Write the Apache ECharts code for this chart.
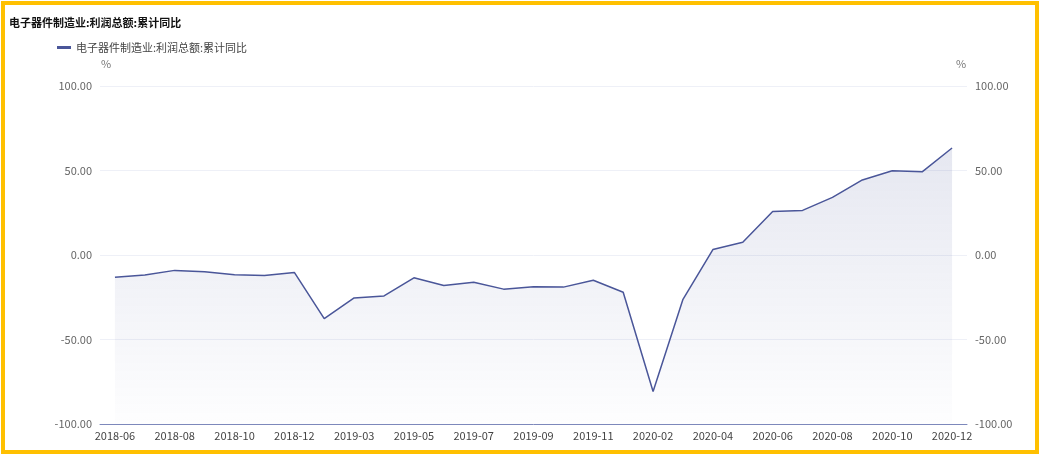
<!DOCTYPE html>
<html style="height: 100%">
<head>
<meta charset="utf-8">
<script src="https://cdn.jsdelivr.net/npm/echarts@6/dist/echarts.min.js"></script>
<style>
  body { margin: 0; background: #fff; }
  #frame { position: absolute; left: 1px; top: 1px; width: 1030px; height: 445px; border: 4px solid #FFC000; }
  #container { width: 100%; height: 100%; }
</style>
</head>
<body>
<div id="frame"><div id="container"></div></div>
<script>
var seriesName = '电子器件制造业:利润总额:累计同比';
var months = ['2018-06','2018-07','2018-08','2018-09','2018-10','2018-11','2018-12',
  '2019-02','2019-03','2019-04','2019-05','2019-06','2019-07','2019-08','2019-09','2019-10','2019-11','2019-12',
  '2020-02','2020-03','2020-04','2020-05','2020-06','2020-07','2020-08','2020-09','2020-10','2020-11','2020-12'];
var profitYoY = [-13.1, -11.9, -9.1, -9.9, -11.7, -12.1, -10.3,
  -37.7, -25.4, -24.2, -13.5, -18.1, -16.1, -20.2, -18.8, -19.0, -14.9, -22.0,
  -80.8, -26.2, 3.2, 7.5, 25.8, 26.4, 34.1, 44.4, 49.8, 49.2, 63.3];

var lineColor = '#4a5699';
var font = '"Noto Sans CJK SC", sans-serif';

var chart = echarts.init(document.getElementById('container'));

function yAxis(pos, showSplit) {
  return {
    type: 'value',
    position: pos,
    min: -100, max: 100, interval: 50,
    name: '%',
    nameGap: 17,
    nameTextStyle: { color: '#777', fontSize: 11, fontFamily: font,
      padding: pos === 'left' ? [0, 0, 0, 12] : [0, 12, 0, 0] },
    axisLine: { show: false },
    axisTick: { show: false },
    axisLabel: { color: '#666', fontSize: 11, fontFamily: font, margin: 8,
      formatter: function (v) { return v.toFixed(2); } },
    splitLine: { show: showSplit, lineStyle: { color: '#eef0f7' } }
  };
}

chart.setOption({
  animation: false,
  title: {
    text: seriesName,
    left: -1, top: 7,
    textStyle: { fontSize: 11, fontWeight: 'bold', color: '#111', fontFamily: font }
  },
  legend: {
    left: 47, top: 32,
    icon: 'rect', itemWidth: 14, itemHeight: 3,
    textStyle: { fontSize: 11, color: '#444', fontFamily: font },
    data: [seriesName]
  },
  grid: { left: 95, right: 68, top: 81, bottom: 26 },
  xAxis: {
    type: 'category',
    data: months,
    boundaryGap: true,
    axisLine: { onZero: false, lineStyle: { color: '#7d88bb', width: 1 } },
    axisTick: { show: false },
    axisLabel: { interval: 1, color: '#444', fontSize: 11, fontFamily: font, margin: 6 }
  },
  yAxis: [yAxis('left', true), yAxis('right', false)],
  series: [{
    name: seriesName,
    type: 'line',
    data: profitYoY,
    showSymbol: false,
    symbol: 'none',
    lineStyle: { color: lineColor, width: 1.5 },
    itemStyle: { color: lineColor },
    areaStyle: {
      origin: 'start',
      color: new echarts.graphic.LinearGradient(0, 0, 0, 1, [
        { offset: 0, color: 'rgba(74,86,153,0.20)' },
        { offset: 1, color: 'rgba(74,86,153,0.01)' }
      ])
    }
  }]
});
</script>
</body>
</html>
